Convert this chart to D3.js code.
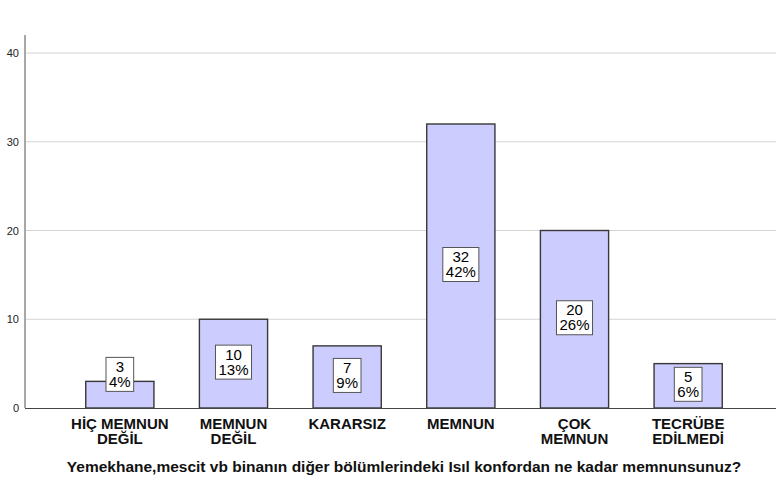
<!DOCTYPE html>
<html><head><meta charset="utf-8">
<script src="https://cdn.jsdelivr.net/npm/d3@7"></script>
<style>body{margin:0;background:#fff}svg{display:block;font-family:Arial,"Liberation Sans",sans-serif}</style>
</head><body><svg id="c" width="776" height="484"></svg>
<script>
const categories = [["HİÇ MEMNUN","DEĞİL"],["MEMNUN","DEĞİL"],["KARARSIZ"],["MEMNUN"],["ÇOK","MEMNUN"],["TECRÜBE","EDİLMEDİ"]];
const counts = [3,10,7,32,20,5];
const percents = ["4%","13%","9%","42%","26%","6%"];
const yTicks = [0,10,20,30,40];
const axisTitle = "Yemekhane,mescit vb binanın diğer bölümlerindeki Isıl konfordan ne kadar memnunsunuz?";

const svg = d3.select("#c");
const x = d3.scaleBand().domain(d3.range(categories.length)).range([63,745]).paddingInner(0.4).paddingOuter(0.2);
const y = d3.scaleLinear().domain([0,40]).range([408,53]);

// gridlines
svg.append("g").selectAll("line").data(yTicks.filter(d=>d>0)).join("line")
  .attr("x1",25).attr("x2",776).attr("y1",d=>y(d)).attr("y2",d=>y(d))
  .attr("stroke","#d4d4d4").attr("stroke-width",1);

// y axis
const ya = svg.append("g").attr("transform","translate(25,0)").call(d3.axisLeft(y).tickValues(yTicks).tickSize(0).tickPadding(6));
ya.select(".domain").remove();
ya.selectAll("text").attr("font-size",11).attr("fill","#222").attr("font-family","Arial, 'Liberation Sans', sans-serif");
svg.append("line").attr("x1",25).attr("x2",25).attr("y1",35).attr("y2",408).attr("stroke","#a8a8a8").attr("stroke-width",2);

// bars
svg.append("g").selectAll("rect").data(counts).join("rect")
  .attr("x",(d,i)=>x(i)).attr("width",x.bandwidth())
  .attr("y",d=>y(d)).attr("height",d=>y(0)-y(d))
  .attr("fill","#ccccff").attr("stroke","#383838").attr("stroke-width",1.4);

// baseline
svg.append("line").attr("x1",25).attr("x2",776).attr("y1",408.5).attr("y2",408.5).attr("stroke","#444").attr("stroke-width",1.2);

// labels
const lg = svg.append("g");
counts.forEach((d,i)=>{
  const cx = x(i)+x.bandwidth()/2;
  const barH = y(0)-y(d);
  const bh = 34;
  let cy = (y(d)+y(0))/2 - 1.5;
  if (barH < bh) cy = y(d) - 7;
  const g = lg.append("g");
  const r = g.append("rect").attr("fill","#fff").attr("stroke","#555").attr("stroke-width",1);
  const t = g.append("text").attr("text-anchor","middle").attr("font-size",15).attr("fill","#000");
  t.append("tspan").attr("x",cx).attr("y",cy-2.5).text(d);
  t.append("tspan").attr("x",cx).attr("y",cy+12.5).text(percents[i]);
  const w = Math.max(t.node().getBBox().width + 6, 26);
  r.attr("x",cx-w/2).attr("y",cy-bh/2).attr("width",w).attr("height",bh);
});

// category labels
const cg = svg.append("g");
categories.forEach((lines,i)=>{
  const cx = x(i)+x.bandwidth()/2;
  const t = cg.append("text").attr("text-anchor","middle").attr("font-size",15).attr("font-weight","bold").attr("fill","#111");
  lines.forEach((s,k)=>t.append("tspan").attr("x",cx).attr("y",429+k*15).text(s));
});

// axis title
svg.append("text").attr("x",(63+745)/2).attr("y",472).attr("text-anchor","middle")
  .attr("font-size",15.5).attr("font-weight","bold").attr("fill","#111").text(axisTitle);
</script></body></html>
